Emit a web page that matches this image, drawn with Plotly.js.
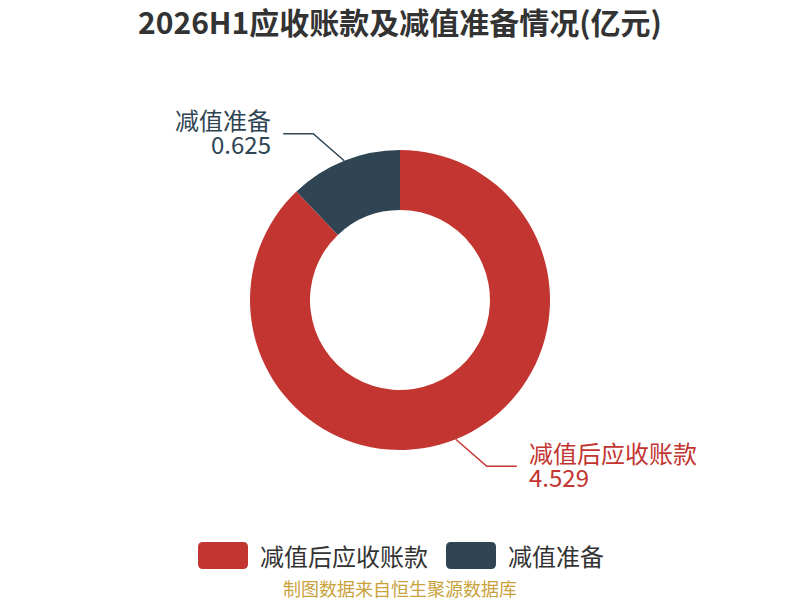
<!DOCTYPE html>
<html>
<head>
<meta charset="utf-8">
<script src="https://cdn.plot.ly/plotly-3.0.1.min.js"></script>
<style>
  html, body { margin: 0; padding: 0; background: #fff; }
  #chart { width: 800px; height: 600px; }
</style>
</head>
<body>
<div id="chart"></div>
<script>
// chart data
const labels = ['减值后应收账款', '减值准备'];
const values = [4.529, 0.625];
const colors = ['#c23531', '#2f4554'];
const valueTexts = ['4.529', '0.625'];

const W = 800, H = 600;
const FONT = '"Noto Sans CJK SC", "Noto Sans", sans-serif';

// pie placement (pixels), radius follows from the domain height
const cx = 400, cy = 300, R = 150;

// helpers to go from pixels to paper coords
const px = x => x / W;
const py = y => 1 - y / H;

const shapes = [];
const annotations = [];

// label lines + labels, angles derived from the values
const total = values.reduce((a, b) => a + b, 0);
let cum = 0;
values.forEach((v, i) => {
    const a = (cum + v / 2) / total * 2 * Math.PI;
    cum += v;
    const sx = Math.sin(a);
    const cyDir = -Math.cos(a);
    const x0 = cx + R * sx, y0 = cy + R * cyDir;
    const dx = sx >= 0 ? 1 : -1;
    const dy = cyDir >= 0 ? 1 : -1;
    const x1 = x0 + dx * 31, y1 = y0 + dy * 27;
    const x2 = x1 + dx * 30;
    shapes.push({
        type: 'path', xref: 'paper', yref: 'paper',
        path: `M ${px(x0)} ${py(y0)} L ${px(x1)} ${py(y1)} L ${px(x2)} ${py(y1)}`,
        line: {color: colors[i], width: 1.5}
    });
    // name line and value line, kept apart to get the tight spacing
    [[labels[i], -14], [valueTexts[i], 10]].forEach(([t, off]) => {
        annotations.push({
            xref: 'paper', yref: 'paper',
            x: px(x2 + dx * 10), y: py(y1 + off),
            xanchor: dx > 0 ? 'left' : 'right', yanchor: 'middle',
            text: t,
            showarrow: false,
            font: {family: FONT, size: 24, color: colors[i]}
        });
    });
});

// hand made legend with rounded swatches
let lx = 198;
labels.forEach((name, i) => {
    const x0 = lx, x1 = lx + 50, y0 = 542, y1 = 569, r = 5;
    shapes.push({
        type: 'path', xref: 'paper', yref: 'paper',
        path: `M ${px(x0 + r)} ${py(y0)} L ${px(x1 - r)} ${py(y0)} Q ${px(x1)} ${py(y0)} ${px(x1)} ${py(y0 + r)} ` +
              `L ${px(x1)} ${py(y1 - r)} Q ${px(x1)} ${py(y1)} ${px(x1 - r)} ${py(y1)} ` +
              `L ${px(x0 + r)} ${py(y1)} Q ${px(x0)} ${py(y1)} ${px(x0)} ${py(y1 - r)} ` +
              `L ${px(x0)} ${py(y0 + r)} Q ${px(x0)} ${py(y0)} ${px(x0 + r)} ${py(y0)} Z`,
        fillcolor: colors[i], line: {width: 0}
    });
    annotations.push({
        xref: 'paper', yref: 'paper',
        x: px(x1 + 10), y: py(555),
        xanchor: 'left', yanchor: 'middle',
        text: name, showarrow: false,
        font: {family: FONT, size: 24, color: '#333333'}
    });
    lx = x1 + 10 + name.length * 24 + 20;
});

// source note
annotations.push({
    xref: 'paper', yref: 'paper',
    x: 0.5, y: py(588), xanchor: 'center', yanchor: 'middle',
    text: '制图数据来自恒生聚源数据库', showarrow: false,
    font: {family: FONT, size: 18, color: '#c9a23c'}
});

const trace = {
    type: 'pie',
    labels: labels,
    values: values,
    hole: 0.6,
    sort: false,
    direction: 'clockwise',
    rotation: 0,
    textinfo: 'none',
    hoverinfo: 'label+value',
    showlegend: false,
    marker: {colors: colors, line: {width: 0}},
    domain: {x: [0, 1], y: [py(cy + R), py(cy - R)]}
};

const layout = {
    width: W,
    height: H,
    margin: {l: 0, r: 0, t: 0, b: 0},
    paper_bgcolor: '#ffffff',
    title: {
        text: '<b>2026H1应收账款及减值准备情况(亿元)</b>',
        x: 0.5, xanchor: 'center',
        y: py(23), yanchor: 'middle',
        font: {family: FONT, size: 30, color: '#333333'}
    },
    showlegend: false,
    shapes: shapes,
    annotations: annotations
};

Plotly.newPlot('chart', [trace], layout, {displayModeBar: false, staticPlot: true});
</script>
</body>
</html>
